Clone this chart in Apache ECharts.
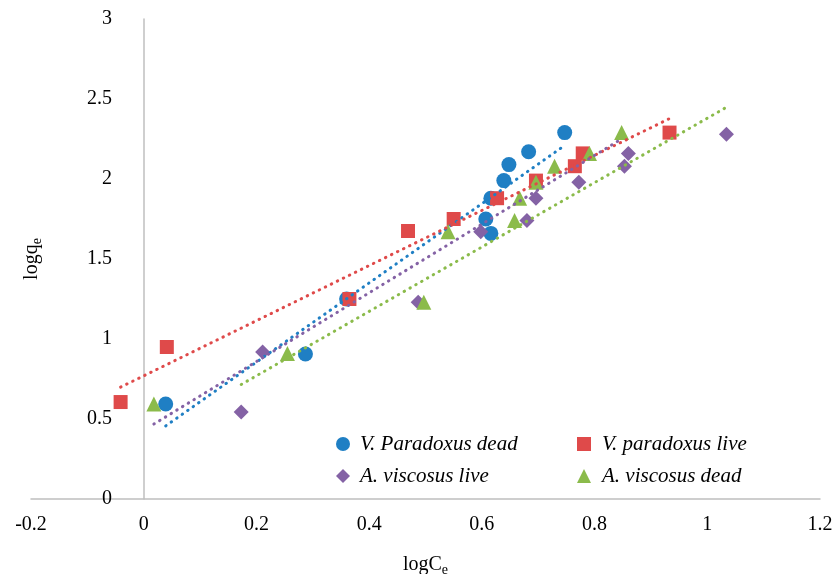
<!DOCTYPE html>
<html><head><meta charset="utf-8">
<script src="https://cdn.jsdelivr.net/npm/echarts@6/dist/echarts.min.js"></script>
<style>html,body{margin:0;padding:0;background:#fff}#c{width:833px;height:574px}</style>
</head><body><div id="c"></div>
<script>
// ---- data ----
const seriesNames = ['V. Paradoxus dead', 'V. paradoxus live', 'A. viscosus live', 'A. viscosus dead'];
const vpDeadX = [0.039, 0.287, 0.360, 0.607, 0.616, 0.616, 0.639, 0.648, 0.683, 0.747];
const vpDeadY = [0.594, 0.906, 1.250, 1.750, 1.660, 1.880, 1.990, 2.090, 2.170, 2.290];
const vpLiveX = [-0.041, 0.041, 0.365, 0.469, 0.550, 0.627, 0.696, 0.765, 0.779, 0.933];
const vpLiveY = [0.606, 0.950, 1.250, 1.675, 1.750, 1.880, 1.990, 2.080, 2.160, 2.290];
const avLiveX = [0.173, 0.211, 0.487, 0.598, 0.680, 0.696, 0.772, 0.853, 0.860, 1.034];
const avLiveY = [0.544, 0.919, 1.230, 1.670, 1.740, 1.880, 1.980, 2.080, 2.160, 2.280];
const avDeadX = [0.018, 0.255, 0.497, 0.540, 0.658, 0.667, 0.696, 0.729, 0.791, 0.848];
const avDeadY = [0.594, 0.910, 1.230, 1.670, 1.740, 1.880, 1.980, 2.080, 2.160, 2.290];
const xTicks = {min: -0.2, max: 1.2, step: 0.2};
const yTicks = {min: 0, max: 3, step: 0.5};

// ---- styles ----
const colors = ['#1f7fc4', '#df4a4a', '#8462a5', '#8bbb4b'];
const symbols = ['circle', 'rect', 'diamond', 'triangle'];
const symSizes = [15, 14, 15, 15];
// trendline colour used for each series' fit (as in the source figure)
const trendColors = ['#1f7fc4', '#df4a4a', '#8bbb4b', '#8462a5'];

const xs = [vpDeadX, vpLiveX, avLiveX, avDeadX];
const ys = [vpDeadY, vpLiveY, avLiveY, avDeadY];

function fit(x, y) {
  const n = x.length;
  const mx = x.reduce((a, b) => a + b, 0) / n;
  const my = y.reduce((a, b) => a + b, 0) / n;
  let sxy = 0, sxx = 0;
  for (let i = 0; i < n; i++) { sxy += (x[i] - mx) * (y[i] - my); sxx += (x[i] - mx) ** 2; }
  const b = sxy / sxx, a = my - b * mx;
  const x0 = Math.min(...x), x1 = Math.max(...x);
  return [[x0, a + b * x0], [x1, a + b * x1]];
}

const font = 'Liberation Serif';
const series = [];
for (let i = 0; i < 4; i++) {
  series.push({
    name: seriesNames[i], type: 'scatter', symbol: symbols[i], symbolSize: symSizes[i],
    itemStyle: {color: colors[i], opacity: 1}, z: 2,
    data: xs[i].map((v, k) => [v, ys[i][k]])
  });
}
for (let i = 0; i < 4; i++) {
  series.push({
    type: 'line', data: fit(xs[i], ys[i]), symbol: 'none', silent: true, z: 5,
    lineStyle: {color: trendColors[i], width: 3, type: [0.5, 6.2], cap: 'round'}
  });
}

const legendText = pad => ({fontFamily: font, fontStyle: 'italic', fontSize: 21, color: '#000',
  lineHeight: 22, padding: [0, 0, 0, pad]});

const chart = echarts.init(document.getElementById('c'));
chart.setOption({
  animation: false,
  backgroundColor: '#fff',
  grid: {left: 31, right: 13, top: 19, bottom: 75, containLabel: false, outerBoundsMode: 'none'},
  xAxis: {
    type: 'value', min: xTicks.min, max: xTicks.max, interval: xTicks.step,
    axisLine: {show: true, onZero: false, lineStyle: {color: '#bfbfbf', width: 1.5}},
    axisTick: {show: false}, splitLine: {show: false},
    axisLabel: {margin: 16, color: '#000', fontFamily: font, fontSize: 20,
      formatter: v => String(Math.round(v * 10) / 10)},
    name: '{m|logC}{s|e}', nameLocation: 'middle', nameGap: 53,
    nameTextStyle: {rich: {m: {fontFamily: font, fontSize: 20, color: '#000'},
      s: {fontFamily: font, fontSize: 14, color: '#000', padding: [11, 0, 0, 0]}}}
  },
  yAxis: {
    type: 'value', min: yTicks.min, max: yTicks.max, interval: yTicks.step,
    axisLine: {show: true, onZero: true, lineStyle: {color: '#bfbfbf', width: 1.5}},
    axisTick: {show: false}, splitLine: {show: false},
    axisLabel: {inside: true, margin: 81, align: 'right', color: '#000', fontFamily: font, fontSize: 20},
    name: '{m|logq}{s|e}', nameLocation: 'middle', nameGap: -13, nameRotate: 90,
    nameTextStyle: {rich: {m: {fontFamily: font, fontSize: 20, color: '#000'},
      s: {fontFamily: font, fontSize: 14, color: '#000', padding: [11, 0, 0, 0]}}}
  },
  legend: [
    {data: [seriesNames[0], seriesNames[2]], orient: 'vertical', left: 336, top: 433,
     itemWidth: 14, itemHeight: 14, itemGap: 10, padding: 0, textStyle: legendText(5)},
    {data: [seriesNames[1], seriesNames[3]], orient: 'vertical', left: 577, top: 433,
     itemWidth: 14, itemHeight: 14, itemGap: 10, padding: 0, textStyle: legendText(6)}
  ],
  series: series
});
</script></body></html>
